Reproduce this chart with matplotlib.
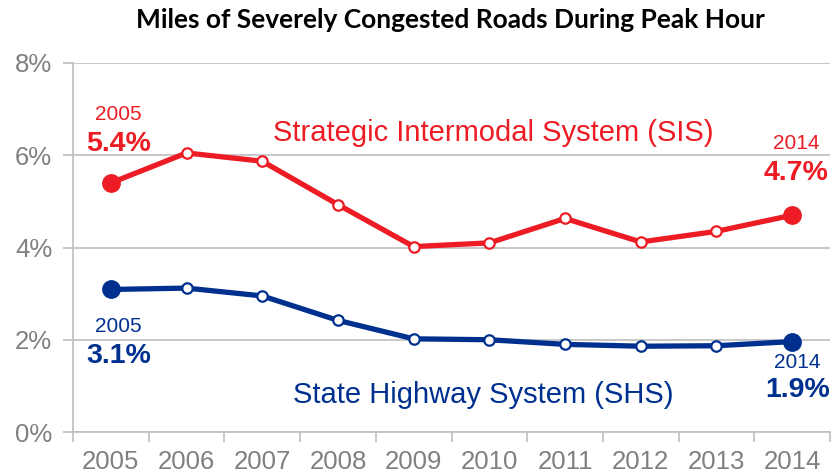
import matplotlib
matplotlib.use("Agg")
import matplotlib.pyplot as plt
from matplotlib.ticker import FixedLocator

years = [2005, 2006, 2007, 2008, 2009, 2010, 2011, 2012, 2013, 2014]
sis = [5.4, 6.05, 5.87, 4.93, 4.02, 4.1, 4.63, 4.12, 4.35, 4.7]
shs = [3.09, 3.12, 2.95, 2.42, 2.02, 2.0, 1.9, 1.86, 1.87, 1.96]
sis_end_labels = ["5.4%", "4.7%"]
shs_end_labels = ["3.1%", "1.9%"]
yticks = [0, 2, 4, 6, 8]
ytick_labels = ["0%", "2%", "4%", "6%", "8%"]
title = "Miles of Severely Congested Roads During Peak Hour"

RED = "#ED1C24"
BLUE = "#00308F"
GRID = "#BFBFBF"
TXT = "#808080"

plt.rcParams['font.family'] = ['Liberation Sans', 'DejaVu Sans']

fig = plt.figure(figsize=(8.38, 4.75), dpi=100)
ax = fig.add_axes([73/838, 43/475, (830-73)/838, (432-63)/475])

for vals, col in [(sis, RED), (shs, BLUE)]:
    ax.plot(years, vals, color=col, lw=3.8, solid_capstyle='round', zorder=3)
    ax.plot(years[1:-1], vals[1:-1], ls='none', marker='o', ms=7.5,
            mfc='white', mec=col, mew=1.6, zorder=4)
    ax.plot([years[0], years[-1]], [vals[0], vals[-1]], ls='none', marker='o',
            ms=12.5, mfc=col, mec=col, zorder=4)

ax.set_xlim(2004.5, 2014.5)
ax.set_ylim(0, 8)
ax.set_yticks(yticks)
ax.set_yticklabels(ytick_labels)
ax.set_xticks(years)
ax.set_xticklabels([str(y) for y in years])
ax.xaxis.set_minor_locator(FixedLocator([y - 0.5 for y in years] + [years[-1] + 0.5]))
ax.tick_params(axis='x', which='major', length=0, pad=13, labelsize=18.5, labelcolor=TXT)
ax.tick_params(axis='x', which='minor', length=7, color=GRID, width=1.2, direction='out')
ax.tick_params(axis='y', length=7, color=GRID, width=1.2, pad=8, labelsize=18.5, labelcolor=TXT)
ax.grid(axis='y', color=GRID, lw=1.2, zorder=0)
for s in ['top', 'right']:
    ax.spines[s].set_visible(False)
for s in ['left', 'bottom']:
    ax.spines[s].set_color(GRID)
    ax.spines[s].set_linewidth(1.2)

def lab(x, y, s, col, size, bold=False):
    ax.text(x, y, s, color=col, fontsize=size, ha='center', va='center',
            fontweight='bold' if bold else 'normal', zorder=5)

lab(2005.1, 6.88, str(years[0]), RED, 15)
lab(2005.1, 6.25, sis_end_labels[0], RED, 20.5, True)
lab(2014.05, 6.25, str(years[-1]), RED, 15)
lab(2014.05, 5.62, sis_end_labels[1], RED, 20.5, True)
lab(2005.1, 2.28, str(years[0]), BLUE, 15)
lab(2005.1, 1.65, shs_end_labels[0], BLUE, 20.5, True)
lab(2014.07, 1.50, str(years[-1]), BLUE, 15)
lab(2014.07, 0.91, shs_end_labels[1], BLUE, 20.5, True)
lab(2010.05, 6.49, "Strategic Intermodal System (SIS)", RED, 21)
lab(2009.92, 0.80, "State Highway System (SHS)", BLUE, 21)

fig.text(450/838, 1 - 20/475, title, ha='center', va='center', fontsize=19,
         fontweight='bold', family=['Lato', 'DejaVu Sans'], color='black')

fig.savefig("out.png", dpi=100)
